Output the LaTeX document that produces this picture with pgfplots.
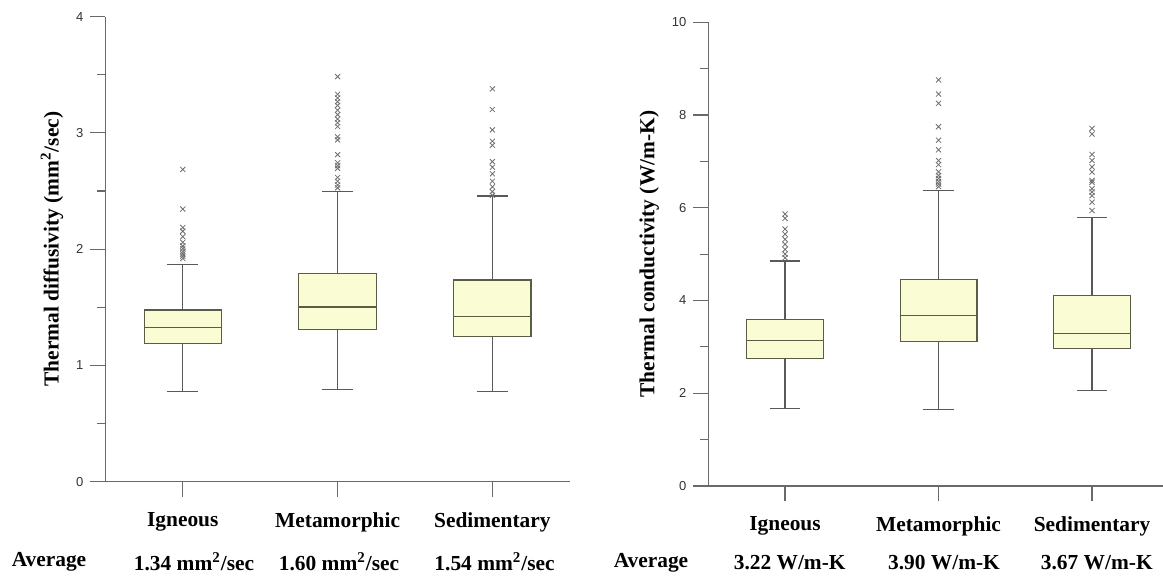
\documentclass[border=0pt]{standalone}
\usepackage{pgfplots}
\pgfplotsset{compat=1.18}
\usepgfplotslibrary{statistics}
\usepackage{fontspec}
\setmainfont{Liberation Serif}
\newfontfamily\sansf{Liberation Sans}
\definecolor{boxfill}{RGB}{250,253,212}
\definecolor{edgec}{RGB}{90,92,70}
\definecolor{axc}{RGB}{105,105,105}
\definecolor{outc}{RGB}{110,110,110}
\pgfplotsset{
  rockstyle/.style={
    scale only axis,
    axis lines=left,
    axis line style={-,draw=axc,line width=0.6pt},
    every tick/.style={draw=axc,line width=0.6pt},
    tick align=outside,
    major tick length=7.5pt,
    minor tick length=4.2pt,
    xmin=0.5, xmax=3.5,
    xtick={1,2,3},
    xticklabels={Igneous,Metamorphic,Sedimentary},
    xticklabel style={font=\bfseries\fontsize{10.7}{12}\selectfont, yshift=-4.5pt},
    yticklabel style={font=\sansf\fontsize{6.5}{7}\selectfont, text=black!80},
    /pgf/number format/assume math mode=true,
    ylabel style={font=\bfseries\fontsize{10.7}{12}\selectfont, anchor=center},
    boxplot/draw direction=y,
    boxplot/every box/.style={draw=edgec, fill=boxfill, line width=0.6pt},
    boxplot/every median/.style={draw=edgec, line width=0.7pt},
    boxplot/every whisker/.style={draw=black!65, line width=0.6pt},
    boxplot/box extend=0.5,
    boxplot/whisker extend=0.2,
  },
  outl/.style={mark=x, mark size=1.8pt, mark options={draw=outc, line width=0.4pt}, draw=edgec, fill=boxfill},
}
\begin{document}
\begin{tikzpicture}
\path[use as bounding box] (0pt,0pt) rectangle (581.5pt,-289pt);
% Left: thermal diffusivity
\begin{axis}[rockstyle,
  at={(52.7pt,-240.85pt)}, anchor=south west,
  width=232.2pt, height=232.55pt,
  ymin=0, ymax=4, ytick={0,1,2,3,4}, minor y tick num=1,
  ylabel={Thermal diffusivity (mm\textsuperscript{2}/sec)},
  ylabel style={at={(axis description cs:-0.115,0.5)}},
]
\addplot[outl, boxplot prepared={draw position=1, lower whisker=0.773, lower quartile=1.187, median=1.327, upper quartile=1.477, upper whisker=1.868}]
 table[row sep=\\, y index=0] {v\\ 2.686\\ 2.345\\ 2.186\\ 2.154\\ 2.107\\ 2.059\\ 2.027\\ 2.005\\ 1.98\\ 1.96\\ 1.94\\ 1.92\\};
\addplot[outl, boxplot prepared={draw position=2, lower whisker=0.796, lower quartile=1.311, median=1.502, upper quartile=1.792, upper whisker=2.498}]
 table[row sep=\\, y index=0] {v\\ 3.484\\ 3.332\\ 3.300\\ 3.268\\ 3.236\\ 3.195\\ 3.157\\ 3.119\\ 3.087\\ 3.055\\ 2.966\\ 2.940\\ 2.813\\ 2.743\\ 2.718\\ 2.695\\ 2.616\\ 2.584\\ 2.552\\ 2.527\\};
\addplot[outl, boxplot prepared={draw position=3, lower whisker=0.773, lower quartile=1.251, median=1.419, upper quartile=1.734, upper whisker=2.457}]
 table[row sep=\\, y index=0] {v\\ 3.379\\ 3.201\\ 3.026\\ 2.928\\ 2.893\\ 2.753\\ 2.705\\ 2.648\\ 2.584\\ 2.536\\ 2.495\\ 2.463\\};
\end{axis}
% Right: thermal conductivity
\begin{axis}[rockstyle,
  at={(354.15pt,-242.95pt)}, anchor=south west,
  width=230.25pt, height=231.8pt,
  ymin=0, ymax=10, ytick={0,2,4,6,8,10}, minor y tick num=1,
  ylabel={Thermal conductivity (W/m-K)},
  ylabel style={at={(axis description cs:-0.128,0.5)}},
]
\addplot[outl, boxplot prepared={draw position=1, lower whisker=1.67, lower quartile=2.74, median=3.13, upper quartile=3.59, upper whisker=4.85}]
 table[row sep=\\, y index=0] {v\\ 5.864\\ 5.771\\ 5.54\\ 5.43\\ 5.32\\ 5.21\\ 5.10\\ 5.00\\ 4.92\\};
\addplot[outl, boxplot prepared={draw position=2, lower whisker=1.646, lower quartile=3.11, median=3.67, upper quartile=4.45, upper whisker=6.37}]
 table[row sep=\\, y index=0] {v\\ 8.757\\ 8.452\\ 8.252\\ 7.747\\ 7.458\\ 7.25\\ 7.017\\ 6.93\\ 6.776\\ 6.696\\ 6.632\\ 6.568\\ 6.51\\ 6.455\\};
\addplot[outl, boxplot prepared={draw position=3, lower whisker=2.05, lower quartile=2.96, median=3.29, upper quartile=4.106, upper whisker=5.79}]
 table[row sep=\\, y index=0] {v\\ 7.71\\ 7.59\\ 7.15\\ 7.02\\ 6.88\\ 6.77\\ 6.59\\ 6.55\\ 6.41\\ 6.34\\ 6.26\\ 6.12\\ 5.94\\};
\end{axis}
% Average row
\begin{scope}[every node/.style={font=\bfseries\fontsize{10.7}{12}\selectfont, inner sep=0pt}]
\node at (24.5pt,-281pt) {Average};
\node at (97pt,-281pt) {1.34 mm\textsuperscript{2}/sec};
\node at (169.5pt,-281pt) {1.60 mm\textsuperscript{2}/sec};
\node at (247.3pt,-281pt) {1.54 mm\textsuperscript{2}/sec};
\node at (325.5pt,-281.25pt) {Average};
\node at (394.85pt,-281.25pt) {3.22 W/m-K};
\node at (472pt,-281.25pt) {3.90 W/m-K};
\node at (548.4pt,-281.25pt) {3.67 W/m-K};
\end{scope}
\end{tikzpicture}
\end{document}
